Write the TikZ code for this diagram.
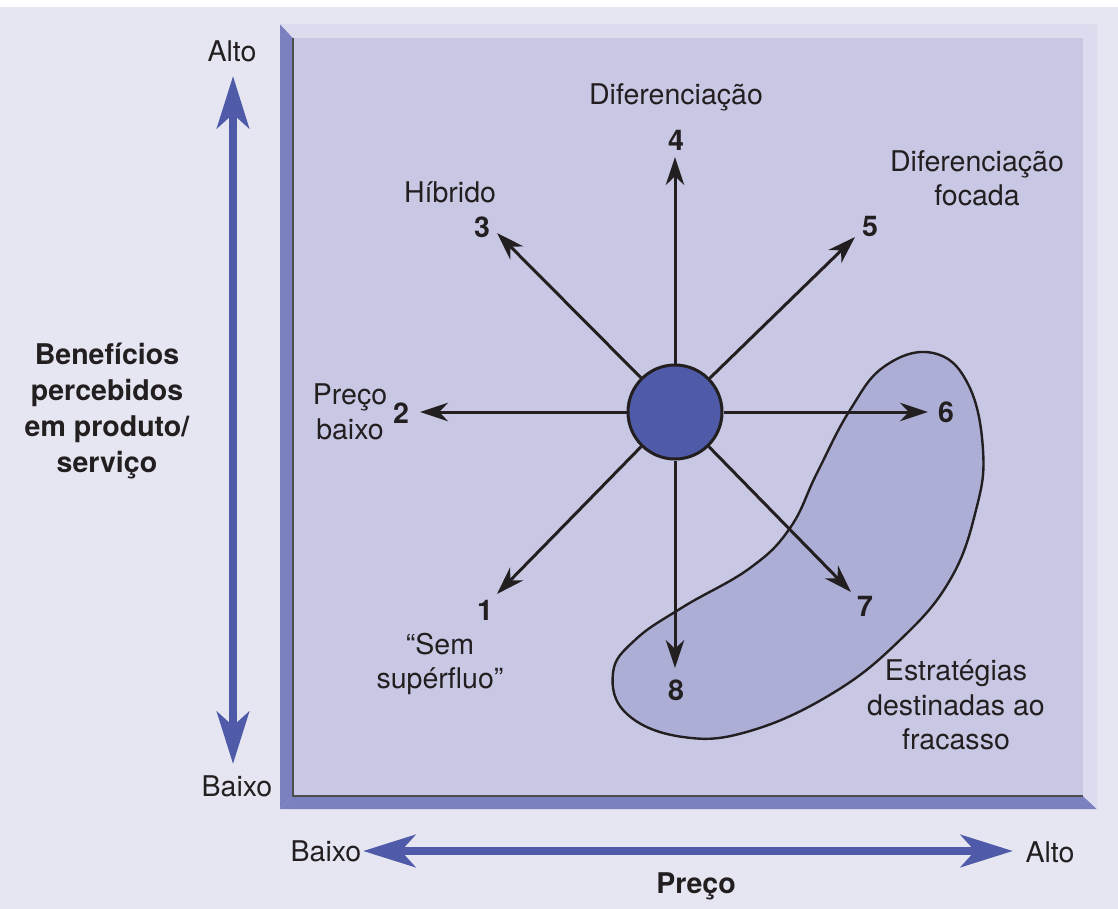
\documentclass[tikz,border=0pt]{standalone}
\usepackage{fontspec}
\setmainfont{TeX Gyre Heros}
\usetikzlibrary{arrows.meta}

\definecolor{bgcol}{HTML}{E6E6F2}
\definecolor{panelcol}{HTML}{C8C8E4}
\definecolor{darkbevel}{HTML}{7B80BE}
\definecolor{lightbevel}{HTML}{DCDCEE}
\definecolor{blobcol}{HTML}{ADAED6}
\definecolor{hubcol}{HTML}{4F5BA8}
\definecolor{txtcol}{HTML}{231F20}

\tikzset{
  lbl/.style={text=txtcol, font=\fontsize{20.3}{24.5}\selectfont, align=center, inner sep=0pt},
  num/.style={lbl, font=\fontsize{20.3}{24.5}\selectfont\bfseries},
  spoke/.style={line width=0.75mm, draw=txtcol, -{Stealth[length=7mm,width=4.6mm,inset=2.2mm]}},
  axisarrow/.style={line width=2.2mm, draw=hubcol,
    {Stealth[length=13mm,width=8mm,inset=3.5mm]}-{Stealth[length=13mm,width=8mm,inset=3.5mm]}},
}

\begin{document}
\begin{tikzpicture}[x=0.25mm, y=-0.25mm]
\useasboundingbox (0,0) rectangle (1118,909);
% background and frame
\fill[bgcol] (0,0) rectangle (1118,909);
\fill[white] (0,0) rectangle (1118,7);
\fill[darkbevel] (280,24) -- (293,38) -- (293,796) -- (280,809) -- cycle;
\fill[darkbevel] (280,809) -- (293,796) -- (1083,796) -- (1097,809) -- cycle;
\fill[lightbevel] (280,24) -- (1097,24) -- (1083,38) -- (293,38) -- cycle;
\fill[lightbevel] (1097,24) -- (1097,809) -- (1083,796) -- (1083,38) -- cycle;
\fill[panelcol] (293,38) rectangle (1083,796);
\draw[line width=0.4mm, color=txtcol!80] (293,38) -- (293,796) -- (1083,796);

% strategies destined to fail
\draw[line width=0.6mm, draw=txtcol, fill=blobcol] plot[smooth cycle, tension=0.7] coordinates {
  (933,353) (968,384) (983,450) (976,510) (950,580) (900,640) (833,693)
  (750,731) (683,737) (627,714) (613,673) (635,640) (683,607) (750,568)
  (790,528) (817,473) (850,410) (885,366)};

% hub and spokes
\node[circle, minimum size=23.5mm, inner sep=0pt, fill=hubcol, draw=txtcol, line width=0.75mm] (hub) at (675,412) {};
\coordinate (t1) at (497,594);
\coordinate (t2) at (420,412);
\coordinate (t3) at (497,233);
\coordinate (t4) at (675,157);
\coordinate (t5) at (855,237);
\coordinate (t6) at (928,412);
\coordinate (t7) at (851,592);
\coordinate (t8) at (675,668);
\foreach \i in {1,...,8}
  \draw[spoke] (hub) -- (t\i);

% numbers and labels
\node[num] (n1) at (485,610) {1};
\node[num] (n2) at (401,413) {2};
\node[num] (n3) at (482,227) {3};
\node[num] (n4) at (676,140) {4};
\node[num] (n5) at (870,227) {5};
\node[num] (n6) at (946,412) {6};
\node[num] (n7) at (865,606) {7};
\node[num] (n8) at (676,690) {8};
\node[lbl] (nofrills) at (440,664) {“Sem\\supérfluo”};
\node[lbl] (lowprice) at (350,412) {Preço\\baixo};
\node[lbl] (hybrid) at (450,192) {Híbrido};
\node[lbl] (diff) at (676,97) {Diferenciação};
\node[lbl] (focdiff) at (977,178) {Diferenciação\\focada};
\node[lbl] (fail) at (956,705) {Estratégias\\destinadas ao\\fracasso};

% axes
\coordinate (vtop) at (233,76);
\coordinate (vbot) at (233,764);
\coordinate (hleft) at (363,851);
\coordinate (hright) at (1013,851);
\draw[axisarrow] (vtop) -- (vbot);
\draw[axisarrow] (hleft) -- (hright);
\node[lbl] (vhigh) at (232,51) {Alto};
\node[lbl] (vlow) at (237,786) {Baixo};
\node[lbl] (hlow) at (326,851) {Baixo};
\node[lbl] (hhigh) at (1050,852) {Alto};
\node[lbl, font=\fontsize{20.3}{25.5}\selectfont\bfseries] (benefit) at (107,411) {Benefícios\\percebidos\\em produto/\\serviço};
\node[lbl, font=\fontsize{20.3}{24.5}\selectfont\bfseries] (price) at (696,886) {Preço};
\end{tikzpicture}
\end{document}
